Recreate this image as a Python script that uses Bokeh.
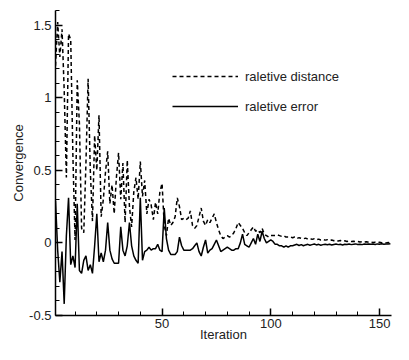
from bokeh.plotting import figure
from bokeh.models import Legend, LegendItem, FixedTicker, Range1d
from bokeh.embed import file_html
from bokeh.resources import INLINE

# relative distance (dashed)
dist = [
    1.22, 1.52, 1.28, 1.47, 1.05, 0.45, 1.44, 1.40, 0.60, 0.02,
    1.12, 0.82, 0.10, 0.07, 0.55, 1.13, 0.50, 0.15, 0.74, 0.50,
    0.88, 0.18, 0.30, 0.49, 0.63, 0.27, 0.40, 0.20, 0.45, 0.62,
    0.30, 0.55, 0.14, 0.57, 0.25, 0.11, 0.35, 0.45, 0.30, 0.56,
    0.32, 0.43, 0.20, 0.30, 0.26, 0.16, 0.28, 0.20, 0.35, 0.41,
    0.12, 0.05, 0.17, 0.12, 0.14, 0.18, 0.31, 0.25, 0.16, 0.17,
    0.16, 0.17, 0.22, 0.12, 0.10, 0.12, 0.18, 0.24, 0.15, 0.12,
    0.16, 0.14, 0.17, 0.20, 0.14, 0.09, 0.05, 0.03, 0.04, 0.05,
    0.04, 0.05, 0.07, 0.10, 0.14, 0.12, 0.10, 0.07, 0.05, 0.07,
    0.09, 0.11, 0.08, 0.09, 0.07, 0.10, 0.06, 0.05, 0.04, 0.05,
    0.05, 0.05, 0.055, 0.05, 0.045, 0.05, 0.04, 0.04, 0.042, 0.035,
    0.04, 0.03, 0.036, 0.032, 0.028, 0.033, 0.027, 0.03, 0.024, 0.028,
    0.022, 0.026, 0.02, 0.024, 0.019, 0.022, 0.017, 0.02, 0.015, 0.018,
    0.013, 0.016, 0.012, 0.014, 0.01, 0.013, 0.009, 0.011, 0.008, 0.01,
    0.006, 0.009, 0.005, 0.008, 0.004, 0.006, 0.003, 0.005, 0.002, 0.004,
    0.001, 0.003, 0.0, 0.002, 0.0,
]

# relative error (solid)
err = [
    0.29, -0.05, -0.27, -0.06, -0.42, 0.05, 0.31, -0.15, -0.09, -0.17,
    0.27, -0.19, -0.21, -0.12, -0.09, -0.19, -0.15, -0.21, -0.02, 0.20,
    -0.13, -0.07, -0.13, -0.05, 0.14, -0.05, -0.11, -0.14, -0.14, -0.14,
    0.11, -0.05, -0.09, -0.02, 0.14, -0.02, -0.09, -0.12, -0.14, 0.31,
    -0.12, -0.06, -0.05, -0.03, -0.05, -0.04, -0.04, -0.01, -0.05, -0.06,
    0.24, 0.03, -0.05, -0.08, -0.08, -0.08, -0.06, 0.04, -0.02, -0.05,
    -0.05, -0.05, -0.05, -0.04, -0.02, 0.00, -0.06, -0.09, -0.03, 0.02,
    -0.07, -0.05, -0.04, -0.01, 0.02, -0.02, -0.06, -0.05, -0.04, -0.03,
    -0.04, -0.05, -0.05, -0.04, -0.04, 0.00, 0.06, -0.01, -0.02, -0.03,
    0.00, 0.03, -0.01, 0.06, 0.01, 0.08, 0.03, 0.00, 0.01, 0.02,
    0.01, -0.01, -0.01, -0.02, -0.02, -0.03, -0.02, -0.03, -0.02, -0.02,
    -0.015, -0.01, -0.018, -0.012, -0.02, -0.014, -0.01, -0.016, -0.012, -0.008,
    -0.014, -0.01, -0.016, -0.012, -0.009, -0.013, -0.01, -0.015, -0.011, -0.008,
    -0.012, -0.01, -0.014, -0.009, -0.011, -0.008, -0.012, -0.01, -0.007, -0.011,
    -0.009, -0.012, -0.008, -0.01, -0.007, -0.01, -0.008, -0.011, -0.007, -0.009,
    -0.006, -0.009, -0.007, -0.008, -0.006,
]

iters_d = list(range(1, len(dist) + 1))
iters_e = list(range(1, len(err) + 1))

x_major = [50, 100, 150]
x_minor = list(range(10, 160, 10))
y_major = [-0.5, 0, 0.5, 1, 1.5]
y_minor = [round(-0.5 + 0.1 * i, 1) for i in range(22)]
y_labels = {-0.5: "-0.5", 0: "0", 0.5: "0.5", 1: "1", 1.5: "1.5"}

FONT = "Liberation Sans"
TXT = "#222222"

p = figure(width=393, height=344, output_backend="svg", toolbar_location=None,
           x_range=Range1d(1, 155.5), y_range=Range1d(-0.5, 1.6),
           min_border_left=55, min_border_right=2, min_border_top=10, min_border_bottom=29)
p.outline_line_color = None
p.grid.visible = False
p.background_fill_color = "white"
p.border_fill_color = "white"

r_d = p.line(iters_d, dist, line_color="black", line_width=1.5, line_dash="4 3")
r_e = p.line(iters_e, err, line_color="black", line_width=1.5)

for ax in (p.xaxis[0], p.yaxis[0]):
    ax.axis_line_color = "black"
    ax.axis_line_width = 1.5
    ax.major_tick_line_color = "black"
    ax.major_tick_line_width = 1.5
    ax.minor_tick_line_color = "black"
    ax.minor_tick_line_width = 1
    ax.major_tick_in = 7
    ax.major_tick_out = 0
    ax.minor_tick_in = 4
    ax.minor_tick_out = 0
    ax.major_label_text_font = FONT
    ax.major_label_text_font_size = "13px"
    ax.major_label_text_color = TXT
    ax.axis_label_text_font = FONT
    ax.axis_label_text_font_size = "13px"
    ax.axis_label_text_font_style = "normal"
    ax.axis_label_text_color = TXT

p.xaxis.ticker = FixedTicker(ticks=x_major, minor_ticks=x_minor)
p.yaxis.ticker = FixedTicker(ticks=y_major, minor_ticks=y_minor)
p.yaxis.major_label_overrides = y_labels
p.xaxis.axis_label = "Iteration"
p.yaxis.axis_label = "Convergence"
p.xaxis.major_label_standoff = 3
p.xaxis.axis_label_standoff = -4
p.yaxis.major_label_standoff = 4
p.yaxis.axis_label_standoff = 0

legend = Legend(items=[LegendItem(label="raletive distance", renderers=[r_d]),
                       LegendItem(label="raletive error", renderers=[r_e])],
                location=(117, 199), orientation="vertical",
                glyph_width=66, glyph_height=20, label_height=20, label_standoff=7,
                spacing=10, padding=0, margin=0,
                border_line_color=None, background_fill_alpha=0,
                label_text_font=FONT, label_text_font_size="13px", label_text_color=TXT)
p.add_layout(legend, "center")

open("out.html", "w").write(file_html(p, INLINE))
